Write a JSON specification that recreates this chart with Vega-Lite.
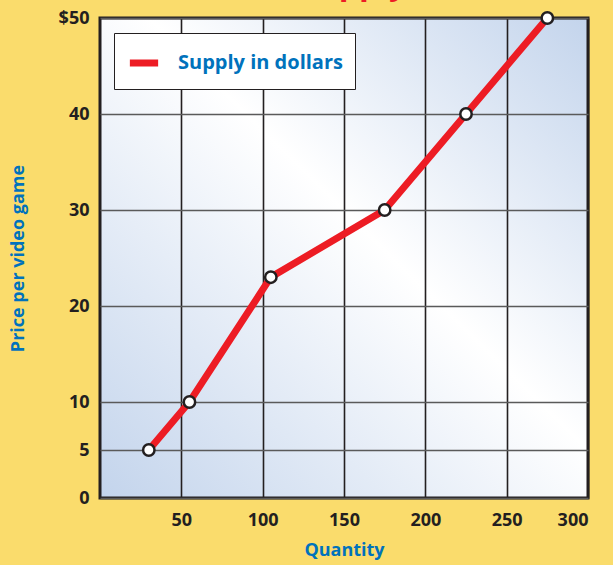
{
  "$schema": "https://vega.github.io/schema/vega-lite/v6.json",
  "width": 488,
  "height": 480,
  "autosize": {"type": "none"},
  "padding": {"left": 100, "top": 18, "right": 25, "bottom": 67},
  "background": "#fadc6c",
  "title": {
    "text": "Supply",
    "orient": "top",
    "anchor": "start",
    "frame": "group",
    "dx": 200,
    "dy": 22,
    "offset": 0,
    "baseline": "alphabetic",
    "font": "Open Sans",
    "fontWeight": "bold",
    "fontSize": 32,
    "color": "#ed1c24"
  },
  "data": {
    "values": [
      {"quantity": 30, "price": 5},
      {"quantity": 55, "price": 10},
      {"quantity": 105, "price": 23},
      {"quantity": 175, "price": 30},
      {"quantity": 225, "price": 40},
      {"quantity": 275, "price": 50}
    ]
  },
  "encoding": {
    "x": {
      "field": "quantity",
      "type": "quantitative",
      "scale": {"domain": [0, 300], "nice": false},
      "axis": {
        "title": "Quantity",
        "values": [50, 100, 150, 200, 250, 300],
        "grid": true,
        "gridColor": "#231f20",
        "gridWidth": 1.6,
        "gridOpacity": 1,
        "ticks": false,
        "domain": false,
        "labelPadding": 13,
        "titleY": 52,
        "titleBaseline": "middle"
      }
    },
    "y": {
      "field": "price",
      "type": "quantitative",
      "scale": {"domain": [0, 50], "nice": false},
      "axis": {
        "title": "Price per video game",
        "values": [0, 5, 10, 20, 30, 40, 50],
        "labelExpr": "datum.value == 50 ? '$50' : datum.label",
        "grid": true,
        "gridColor": "#5a5a5a",
        "gridWidth": 1.6,
        "gridOpacity": 1,
        "ticks": false,
        "domain": false,
        "labelPadding": 11,
        "titleX": -82,
        "titleBaseline": "middle"
      }
    }
  },
  "layer": [
    {
      "mark": {"type": "line", "strokeWidth": 7, "strokeCap": "butt"},
      "encoding": {
        "color": {
          "datum": "Supply in dollars",
          "scale": {"range": ["#ed1c24"]},
          "legend": {
            "title": null,
            "orient": "none",
            "legendX": 14,
            "legendY": 15,
            "symbolType": "stroke",
            "symbolStrokeWidth": 7,
            "symbolSize": 800,
            "labelOffset": 16,
            "labelLimit": 400,
            "padding": 12,
            "fillColor": "#ffffff",
            "strokeColor": "#231f20",
            "labelFont": "Open Sans",
            "labelFontWeight": "bold",
            "labelFontSize": 20,
            "labelColor": "#0072bc"
          }
        }
      }
    },
    {
      "mark": {
        "type": "point",
        "filled": true,
        "fill": "#ffffff",
        "stroke": "#231f20",
        "strokeWidth": 2.5,
        "size": 130,
        "opacity": 1
      }
    }
  ],
  "config": {
    "view": {
      "stroke": "#231f20",
      "strokeWidth": 3,
      "fill": {
        "gradient": "linear",
        "x1": 0, "y1": 1, "x2": 1, "y2": 0,
        "stops": [
          {"offset": 0, "color": "#c3d4ec"},
          {"offset": 0.55, "color": "#ffffff"},
          {"offset": 1, "color": "#c3d4ec"}
        ]
      }
    },
    "axis": {
      "labelFont": "Open Sans",
      "labelFontWeight": "bold",
      "labelFontSize": 18,
      "labelColor": "#231f20",
      "titleFont": "Open Sans",
      "titleFontWeight": "bold",
      "titleFontSize": 18,
      "titleColor": "#0072bc"
    }
  }
}
